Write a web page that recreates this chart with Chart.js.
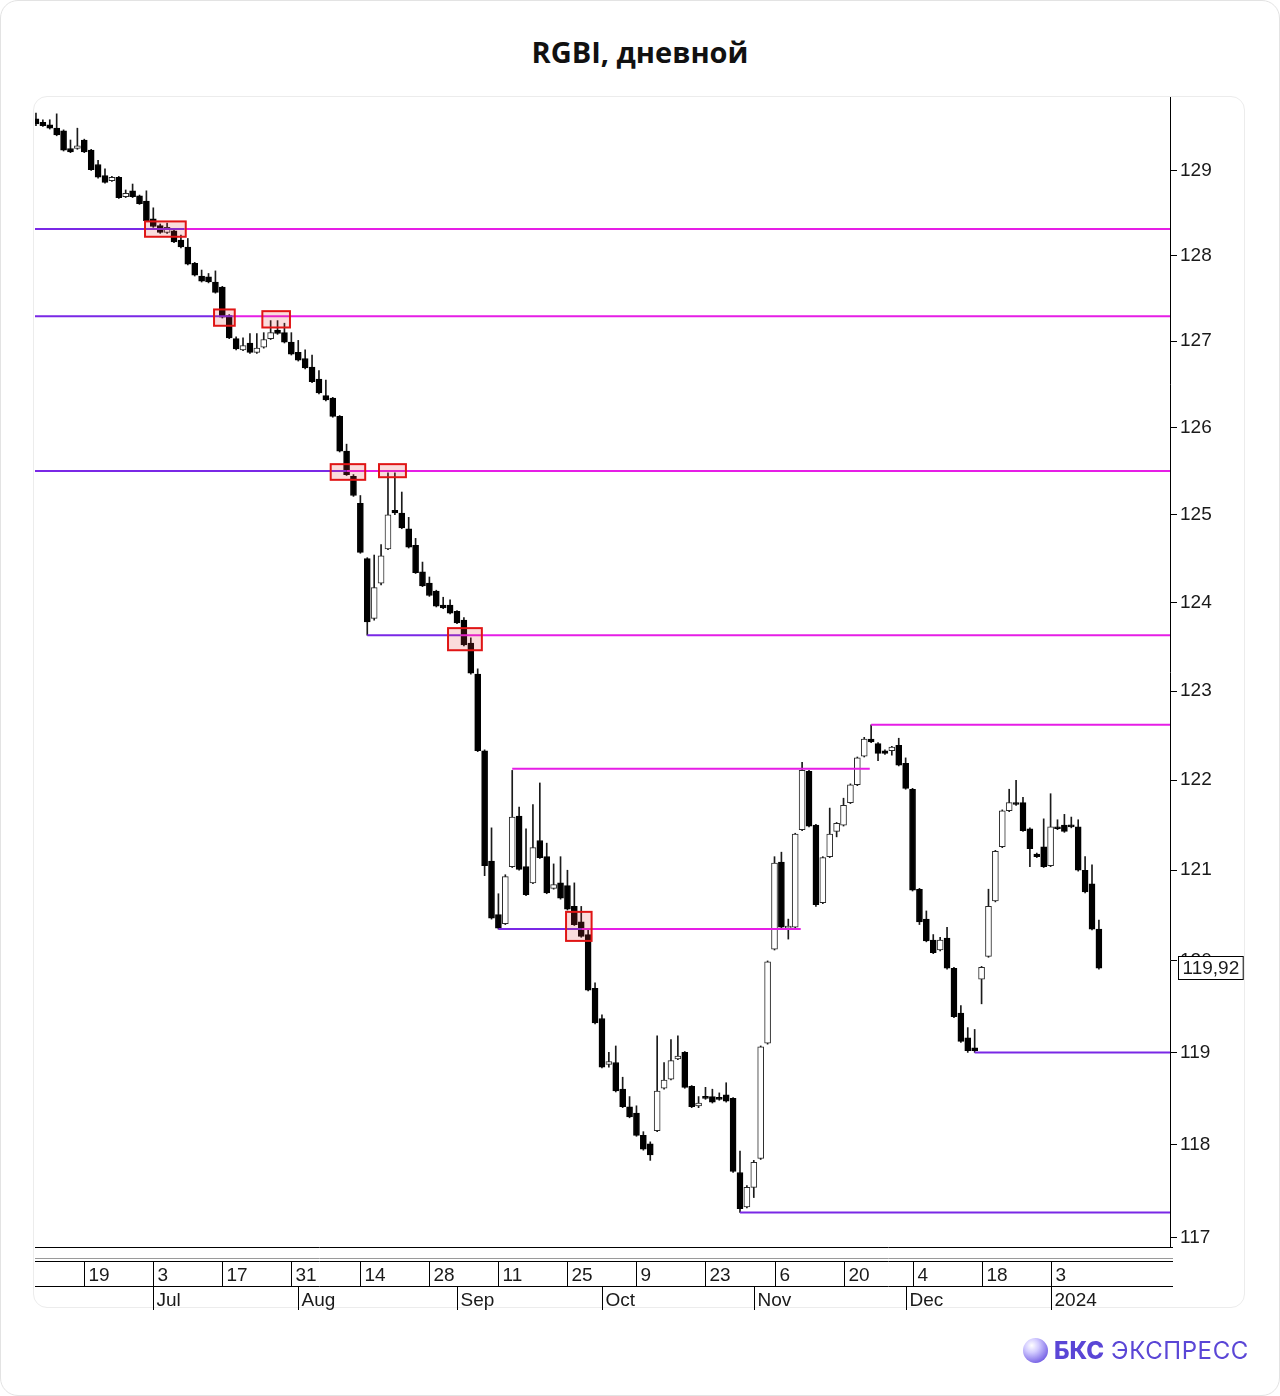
<!DOCTYPE html>
<html>
<head>
<meta charset="utf-8">
<script src="https://cdn.jsdelivr.net/npm/chart.js@4.4.1/dist/chart.umd.min.js"></script>
<style>
  html, body { margin: 0; padding: 0; background: #fff; }
  #frame { position: absolute; left: 0; top: 0; width: 1280px; height: 1396px; box-sizing: border-box;
           border: 1px solid #e3e3e3; border-radius: 18px; }
  #card { position: absolute; left: 33px; top: 96px; width: 1212px; height: 1212px; box-sizing: border-box;
          border: 1px solid #ececec; border-radius: 14px; }
  #title { position: absolute; left: 0; top: 32px; width: 1280px; margin: 0; text-align: center;
           font: 700 29px "Open Sans", sans-serif; line-height: 40px; color: #111; }
  #chart { position: absolute; left: 0; top: 0; }
  #logo { position: absolute; left: 1023px; top: 1334px; height: 32px; display: flex; align-items: center;
          font-family: "Inter", "Roboto", sans-serif; font-size: 24px; color: #5a46d6; }
  #logo .dot { width: 25px; height: 25px; border-radius: 50%; margin-right: 6px;
               background: radial-gradient(circle at 35% 30%, #ffffff 0%, #d2cbff 30%, #7a66e6 75%, #5a46d6 100%); }
  #logo b { font-weight: 800; margin-right: 7px; }
  #logo span { letter-spacing: 0.6px; font-weight: 400; }
</style>
</head>
<body>
<div id="frame"></div>
<div id="card"></div>
<h1 id="title">RGBI, дневной</h1>
<canvas id="chart" width="1280" height="1396"></canvas>
<div id="logo"><div class="dot"></div><b>БКС</b><span>ЭКСПРЕСС</span></div>
<script>
// RGBI daily candles, Jun 7 2023 - Jan 12 2024

const firstDay = "2023-06-07";
const lastDay = "2024-01-12";
const holidays = ["2023-06-12", "2024-01-01", "2024-01-02"];

const opens = [
    129.61, 129.57, 129.54, 129.50, 129.47, 129.26, 129.26, 129.36, 129.24, 129.07,
    128.94, 128.88, 128.92, 128.69, 128.76, 128.70, 128.64, 128.43, 128.35, 128.27,
    128.29, 128.18, 128.10, 127.91, 127.76, 127.75, 127.69, 127.63, 127.30, 127.03,
    126.90, 126.98, 126.87, 126.93, 127.03, 127.13, 127.10, 126.99, 126.87, 126.80,
    126.70, 126.56, 126.37, 126.34, 126.13, 125.73, 125.44, 125.13, 124.50, 123.82,
    124.22, 124.61, 125.05, 125.02, 124.84, 124.65, 124.35, 124.22, 124.13, 123.97,
    123.97, 123.90, 123.80, 123.54, 123.19, 122.33, 121.10, 120.51, 120.41, 121.04,
    121.60, 121.04, 120.86, 121.33, 121.15, 120.80, 120.86, 120.83, 120.60, 120.43,
    120.29, 119.70, 119.37, 118.87, 118.89, 118.60, 118.41, 118.34, 118.10, 118.01,
    118.15, 118.61, 118.71, 118.93, 119.00, 118.63, 118.42, 118.52, 118.52, 118.51,
    118.54, 118.50, 117.70, 117.33, 117.54, 117.85, 119.10, 120.13, 121.09, 120.36,
    120.37, 121.45, 122.10, 121.50, 120.64, 121.15, 121.43, 121.50, 121.75, 121.95,
    122.27, 122.46, 122.41, 122.33, 122.33, 122.39, 122.19, 121.90, 120.79, 120.46,
    120.23, 120.12, 120.25, 119.92, 119.43, 119.16, 119.05, 119.80, 120.05, 120.66,
    121.26, 121.66, 121.74, 121.75, 121.46, 121.18, 121.26, 121.05, 121.48, 121.50,
    121.49, 121.48, 121.00, 120.85, 120.35
];
const highs = [
    129.68, 129.60, 129.60, 129.67, 129.48, 129.36, 129.50, 129.37, 129.25, 129.12,
    129.02, 128.93, 128.93, 128.77, 128.84, 128.71, 128.76, 128.56, 128.37, 128.38,
    128.30, 128.24, 128.20, 127.92, 127.83, 127.79, 127.82, 127.64, 127.31, 127.05,
    127.04, 127.09, 127.09, 127.10, 127.24, 127.24, 127.21, 127.10, 127.01, 126.90,
    126.84, 126.66, 126.55, 126.35, 126.14, 125.81, 125.46, 125.22, 124.51, 124.54,
    124.66, 125.48, 125.48, 125.26, 124.97, 124.73, 124.46, 124.29, 124.14, 124.06,
    124.03, 123.91, 123.83, 123.60, 123.25, 122.34, 121.47, 120.74, 120.95, 122.11,
    121.70, 121.46, 121.73, 121.97, 121.30, 121.07, 121.15, 121.00, 120.86, 120.60,
    120.34, 119.76, 119.41, 119.00, 119.07, 118.73, 118.52, 118.42, 118.14, 118.03,
    119.18, 118.89, 119.14, 119.18, 119.01, 118.64, 118.52, 118.62, 118.60, 118.56,
    118.67, 118.51, 117.93, 117.56, 117.83, 119.07, 120.00, 121.15, 121.20, 120.46,
    121.41, 122.20, 122.11, 121.51, 121.15, 121.69, 121.53, 121.80, 121.96, 122.26,
    122.48, 122.62, 122.42, 122.34, 122.38, 122.47, 122.25, 121.91, 120.80, 120.55,
    120.29, 120.26, 120.37, 119.93, 119.51, 119.27, 119.25, 119.94, 120.79, 121.22,
    121.67, 121.90, 122.00, 121.81, 121.47, 121.19, 121.57, 121.85, 121.56, 121.62,
    121.59, 121.56, 121.15, 121.06, 120.45
];
const lows = [
    129.53, 129.52, 129.49, 129.41, 129.23, 129.21, 129.25, 129.21, 129.00, 128.91,
    128.85, 128.87, 128.67, 128.68, 128.68, 128.60, 128.40, 128.33, 128.26, 128.26,
    128.15, 128.09, 127.89, 127.76, 127.69, 127.68, 127.56, 127.27, 127.03, 126.90,
    126.89, 126.86, 126.86, 126.92, 127.02, 127.08, 126.98, 126.84, 126.77, 126.68,
    126.52, 126.39, 126.31, 126.12, 125.72, 125.45, 125.21, 124.56, 123.63, 123.80,
    124.20, 124.60, 125.00, 124.84, 124.62, 124.33, 124.18, 124.07, 123.95, 123.93,
    123.87, 123.76, 123.51, 123.19, 122.32, 120.94, 120.46, 120.35, 120.40, 121.03,
    121.00, 120.72, 120.85, 121.13, 120.74, 120.79, 120.68, 120.56, 120.39, 120.26,
    119.67, 119.31, 118.83, 118.84, 118.57, 118.40, 118.29, 118.09, 117.94, 117.83,
    118.14, 118.60, 118.70, 118.92, 118.61, 118.40, 118.40, 118.49, 118.45, 118.48,
    118.46, 117.70, 117.27, 117.32, 117.43, 117.84, 119.09, 120.12, 120.36, 120.24,
    120.36, 121.44, 121.48, 120.60, 120.63, 121.14, 121.37, 121.49, 121.74, 121.94,
    122.26, 122.42, 122.22, 122.29, 122.28, 122.16, 121.90, 120.77, 120.40, 120.21,
    120.08, 120.11, 119.91, 119.38, 119.11, 119.00, 119.00, 119.53, 120.04, 120.65,
    121.25, 121.65, 121.72, 121.43, 121.04, 121.14, 121.03, 121.04, 121.45, 121.42,
    121.47, 120.99, 120.75, 120.34, 119.91
];
const closes = [
    129.55, 129.53, 129.50, 129.42, 129.24, 129.22, 129.29, 129.22, 129.01, 128.92,
    128.86, 128.92, 128.68, 128.73, 128.69, 128.61, 128.41, 128.34, 128.27, 128.33,
    128.16, 128.10, 127.90, 127.77, 127.70, 127.69, 127.57, 127.28, 127.04, 126.91,
    126.95, 126.87, 126.92, 127.02, 127.10, 127.09, 126.99, 126.85, 126.78, 126.69,
    126.53, 126.40, 126.32, 126.13, 125.73, 125.46, 125.22, 124.57, 123.78, 124.17,
    124.53, 125.00, 125.02, 124.85, 124.63, 124.34, 124.19, 124.08, 123.96, 123.94,
    123.88, 123.77, 123.52, 123.20, 122.33, 121.05, 120.47, 120.36, 120.93, 121.59,
    121.01, 120.73, 121.25, 121.14, 120.75, 120.84, 120.69, 120.57, 120.40, 120.27,
    119.68, 119.32, 118.84, 118.90, 118.58, 118.41, 118.30, 118.10, 117.95, 117.89,
    118.58, 118.70, 118.91, 118.96, 118.62, 118.41, 118.45, 118.50, 118.46, 118.49,
    118.47, 117.71, 117.31, 117.54, 117.81, 119.06, 119.99, 121.08, 120.37, 120.38,
    121.40, 122.11, 121.49, 120.62, 121.14, 121.40, 121.52, 121.72, 121.95, 122.25,
    122.46, 122.43, 122.30, 122.30, 122.37, 122.17, 121.91, 120.78, 120.43, 120.22,
    120.09, 120.23, 119.92, 119.39, 119.12, 119.02, 119.02, 119.93, 120.60, 121.21,
    121.66, 121.75, 121.73, 121.44, 121.24, 121.15, 121.04, 121.48, 121.46, 121.43,
    121.48, 121.00, 120.76, 120.35, 119.92
];

// price axis
const yTicks = [117, 118, 119, 120, 121, 122, 123, 124, 125, 126, 127, 128, 129];
const yMin = 116.9;
const yMax = 129.87;
const lastPriceText = "119,92";

// time axis
const dayTickDates = ["2023-06-19", "2023-07-03", "2023-07-17", "2023-07-31", "2023-08-14", "2023-08-28",
    "2023-09-11", "2023-09-25", "2023-10-09", "2023-10-23", "2023-11-06", "2023-11-20",
    "2023-12-04", "2023-12-18", "2024-01-03"];
const monthTickDates = ["2023-07-03", "2023-08-01", "2023-09-01", "2023-10-02", "2023-11-01", "2023-12-01", "2024-01-03"];
const monthNames = ["Jul", "Aug", "Sep", "Oct", "Nov", "Dec", "2024"];
const xMin = -0.14;
const xMax = 164.3;

// horizontal levels: value, start, colour change, end (in bar index units)
const levelValues = [128.31, 127.29, 125.50, 123.63, 120.35, 122.13, 122.62, 119.00, 117.27];
const levelFrom   = [xMin,   xMin,   xMin,   48,     67,     69,     121,    136,    102];
const levelTurn   = [21.5,   28.5,   45,     61.5,   79,     69,     121,    xMax,   xMax];
const levelTo     = [xMax,   xMax,   xMax,   xMax,   110.8,  120.8,  xMax,   xMax,   xMax];

// red boxes: bar index span and price span
const boxFrom = [15.8, 25.8, 32.8, 42.7, 49.7, 59.7, 76.8];
const boxTo   = [21.7, 28.8, 36.8, 47.7, 53.6, 64.6, 80.5];
const boxLow  = [128.22, 127.18, 127.16, 125.40, 125.43, 123.46, 120.22];
const boxHigh = [128.40, 127.37, 127.35, 125.58, 125.58, 123.71, 120.54];

function tradingDays() {
    const out = [];
    const d = new Date(firstDay + "T00:00:00Z");
    const end = new Date(lastDay + "T00:00:00Z");
    while (d <= end) {
        const s = d.toISOString().slice(0, 10);
        const wd = d.getUTCDay();
        if (wd !== 0 && wd !== 6 && !holidays.includes(s)) out.push(s);
        d.setUTCDate(d.getUTCDate() + 1);
    }
    return out;
}
const dates = tradingDays();

const VIOLET = "#7a28e6";
const MAGENTA = "#e61ee6";
const FONT = "'Liberation Sans', Arial, sans-serif";

const bodies = opens.map((o, i) => ({ x: i, y: [o, closes[i]] }));
const wicks = opens.map((o, i) => ({ x: i, y: [lows[i], highs[i]] }));
const upColor = opens.map((o, i) => closes[i] >= o ? "#ffffff" : "#000000");
const edgeColor = opens.map((o, i) => closes[i] >= o ? "#2a2a2a" : "#000000");

const levelSets = [];
levelValues.forEach((v, i) => {
    if (levelTurn[i] > levelFrom[i]) {
        levelSets.push({ type: "line", data: [{ x: levelFrom[i], y: v }, { x: levelTurn[i], y: v }],
            borderColor: VIOLET, borderWidth: 2, pointRadius: 0, fill: false, order: 0 });
    }
    if (levelTo[i] > levelTurn[i]) {
        levelSets.push({ type: "line", data: [{ x: levelTurn[i], y: v }, { x: levelTo[i], y: v }],
            borderColor: MAGENTA, borderWidth: 2, pointRadius: 0, fill: false, order: 0 });
    }
});

const boxesPlugin = {
    id: "boxes",
    afterDatasetsDraw(chart) {
        const { ctx, scales: { x, y } } = chart;
        ctx.save();
        boxFrom.forEach((f, i) => {
            const x1 = x.getPixelForValue(f), x2 = x.getPixelForValue(boxTo[i]);
            const y1 = y.getPixelForValue(boxHigh[i]), y2 = y.getPixelForValue(boxLow[i]);
            ctx.fillStyle = "rgba(230, 60, 60, 0.18)";
            ctx.fillRect(x1, y1, x2 - x1, y2 - y1);
            ctx.strokeStyle = "#e01515";
            ctx.lineWidth = 2;
            ctx.strokeRect(x1, y1, x2 - x1, y2 - y1);
        });
        ctx.restore();
    }
};

const timeAxisPlugin = {
    id: "timeAxis",
    afterDraw(chart) {
        const { ctx, chartArea: ca, scales: { x, y } } = chart;
        ctx.save();
        ctx.lineWidth = 1;
        ctx.strokeStyle = "#000";
        const hline = (yy, col) => {
            ctx.strokeStyle = col;
            ctx.beginPath(); ctx.moveTo(ca.left, yy); ctx.lineTo(ca.right + 3, yy); ctx.stroke();
        };
        const top = Math.round(ca.bottom) + 14;
        const mid = top + 25;
        const bot = mid + 24;
        hline(Math.round(ca.bottom) + 0.5, "#000");
        hline(top - 2.5, "#9a9a9a");
        hline(top + 0.5, "#000");
        hline(mid + 0.5, "#000");

        ctx.fillStyle = "#1a1a1a";
        ctx.font = "19px " + FONT;
        ctx.textBaseline = "alphabetic";
        ctx.textAlign = "left";
        dayTickDates.forEach(d => {
            const px = Math.round(x.getPixelForValue(dates.indexOf(d))) + 0.5;
            ctx.strokeStyle = "#000";
            ctx.beginPath(); ctx.moveTo(px, top); ctx.lineTo(px, mid); ctx.stroke();
            ctx.fillText(String(Number(d.slice(8))), px + 4, mid - 5);
        });
        monthTickDates.forEach((d, i) => {
            const px = Math.round(x.getPixelForValue(dates.indexOf(d))) + 0.5;
            ctx.beginPath(); ctx.moveTo(px, mid); ctx.lineTo(px, bot); ctx.stroke();
            ctx.fillText(monthNames[i], px + 3, bot - 4);
        });

        // last price tag on the price axis
        const py = Math.round(y.getPixelForValue(closes[closes.length - 1]));
        ctx.font = "19px " + FONT;
        const w = ctx.measureText(lastPriceText).width + 8;
        const bx = Math.round(ca.right) + 8.5;
        ctx.fillStyle = "#fff";
        ctx.fillRect(bx, py - 11.5, w, 23);
        ctx.strokeStyle = "#000";
        ctx.strokeRect(bx, py - 11.5, w, 23);
        ctx.fillStyle = "#1a1a1a";
        ctx.textBaseline = "middle";
        ctx.fillText(lastPriceText, bx + 4, py + 1);
        ctx.restore();
    }
};

Chart.defaults.font.family = FONT;
Chart.defaults.color = "#1a1a1a";

new Chart(document.getElementById("chart"), {
    type: "bar",
    data: {
        datasets: [
            ...levelSets,
            {
                label: "body",
                data: bodies,
                backgroundColor: upColor,
                borderColor: edgeColor,
                borderWidth: 1,
                borderSkipped: false,
                barThickness: 6,
                minBarLength: 2,
                grouped: false,
                order: 1
            },
            {
                label: "wick",
                data: wicks,
                backgroundColor: "#1a1a1a",
                borderWidth: 0,
                barThickness: 1,
                grouped: false,
                order: 2
            }
        ]
    },
    options: {
        responsive: false,
        animation: false,
        devicePixelRatio: 1,
        layout: { padding: { left: 35, top: 97, right: 35, bottom: 149 } },
        plugins: {
            legend: { display: false },
            tooltip: { enabled: false }
        },
        scales: {
            x: {
                type: "linear",
                display: false,
                offset: false,
                min: xMin,
                max: xMax
            },
            y: {
                type: "logarithmic",
                position: "right",
                min: yMin,
                max: yMax,
                afterBuildTicks: (axis) => { axis.ticks = yTicks.map(v => ({ value: v })); },
                afterFit: (axis) => { axis.width = 75; },
                border: { display: true, color: "#000", width: 1 },
                grid: { drawOnChartArea: false, drawTicks: true, tickLength: 7, color: "#000" },
                ticks: {
                    padding: 3,
                    font: { size: 19, family: FONT },
                    color: "#1a1a1a",
                    callback: (v) => String(v)
                }
            }
        }
    },
    plugins: [boxesPlugin, timeAxisPlugin]
});
</script>
</body>
</html>
